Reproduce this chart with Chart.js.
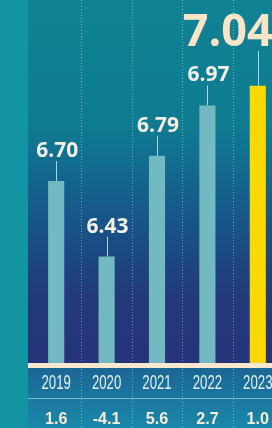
<!DOCTYPE html>
<html>
<head>
<meta charset="utf-8">
<script src="https://cdn.jsdelivr.net/npm/chart.js@4/dist/chart.umd.min.js"></script>
<style>
  html, body { margin: 0; padding: 0; width: 272px; height: 428px; overflow: hidden; background: #1294a2; }
  #wrap { position: absolute; left: 0; top: 0; width: 284px; height: 428px; }
</style>
</head>
<body>
<div id="wrap"><canvas id="c" width="284" height="428"></canvas></div>
<script>
const years = ["2019", "2020", "2021", "2022", "2023"];
const values = [6.70, 6.43, 6.79, 6.97, 7.04];
const valueLabels = ["6.70", "6.43", "6.79", "6.97", "7.04"];
const growth = ["1.6", "-4.1", "5.6", "2.7", "1.0"];

const BAR = "#72b9c2";
const HIGHLIGHT = "#f9d900";
const CREAM = "#f8e8cf";

function scaledText(ctx, text, x, y, sx) {
  ctx.save();
  ctx.translate(x, y);
  ctx.scale(sx, 1);
  ctx.fillText(text, 0, 0);
  ctx.restore();
}

const decor = {
  id: "decor",
  beforeDraw(chart) {
    const ctx = chart.ctx;
    const W = chart.width, H = chart.height;
    const base = chart.chartArea.bottom;
    const panelX = 28;
    ctx.save();
    ctx.fillStyle = "#1294a2";
    ctx.fillRect(0, 0, W, H);
    const g = ctx.createLinearGradient(0, 0, 0, base);
    g.addColorStop(0, "#0f8393");
    g.addColorStop(0.35, "#0f7b92");
    g.addColorStop(0.6, "#165689");
    g.addColorStop(0.82, "#23397a");
    g.addColorStop(1, "#26337a");
    ctx.fillStyle = g;
    ctx.fillRect(panelX, 0, W - panelX, base);
    const t = ctx.createLinearGradient(0, base, 0, H);
    t.addColorStop(0, "#1b6394");
    t.addColorStop(1, "#1a88a8");
    ctx.fillStyle = t;
    ctx.fillRect(panelX, base, W - panelX, H - base);
    ctx.restore();
  },
  beforeDatasetsDraw(chart) {
    const ctx = chart.ctx;
    const xs = chart.scales.x;
    const H = chart.height;
    ctx.save();
    ctx.strokeStyle = "rgba(200,232,240,0.5)";
    ctx.lineWidth = 1;
    ctx.setLineDash([1, 2]);
    for (let i = 0; i < years.length - 1; i++) {
      const x = Math.round((xs.getPixelForValue(i) + xs.getPixelForValue(i + 1)) / 2) + 0.5;
      ctx.beginPath();
      ctx.moveTo(x, 0);
      ctx.lineTo(x, H);
      ctx.stroke();
    }
    ctx.restore();
  },
  afterDatasetsDraw(chart) {
    const ctx = chart.ctx;
    const xs = chart.scales.x, ys = chart.scales.y;
    const base = chart.chartArea.bottom;
    const W = chart.width;
    ctx.save();
    ctx.fillStyle = CREAM;
    ctx.fillRect(28, base, W - 28, 5);
    ctx.fillStyle = "rgba(140,205,225,0.8)";
    ctx.fillRect(28, base + 35, W - 28, 1);

    for (let i = 0; i < values.length; i++) {
      const x = xs.getPixelForValue(i);
      const top = ys.getPixelForValue(values[i]);
      const last = i === values.length - 1;
      const labelMid = last ? 31 : top - 31;
      const leaderStart = last ? labelMid + 20 : labelMid + 11;
      ctx.strokeStyle = "rgba(190,225,232,0.9)";
      ctx.lineWidth = 1;
      ctx.beginPath();
      ctx.moveTo(Math.round(x) + 0.5, leaderStart);
      ctx.lineTo(Math.round(x) + 0.5, top);
      ctx.stroke();

      ctx.textAlign = "center";
      ctx.textBaseline = "middle";
      if (last) {
        ctx.fillStyle = "#fbe5c6";
        ctx.font = "700 45px 'Open Sans', sans-serif";
        ctx.fillText(valueLabels[i], x - 30, labelMid + 2);
      } else {
        ctx.fillStyle = "#f4efe4";
        ctx.font = "700 21px 'Open Sans', sans-serif";
        ctx.fillText(valueLabels[i], x + 1, labelMid + 1);
      }
    }

    for (let i = 0; i < years.length; i++) {
      const x = xs.getPixelForValue(i);
      ctx.textAlign = "center";
      ctx.textBaseline = "middle";
      ctx.fillStyle = "#e4eef0";
      ctx.font = "400 21px 'Liberation Sans', sans-serif";
      scaledText(ctx, years[i], x, base + 20, 0.63);
      ctx.fillStyle = "#f5ecd6";
      ctx.font = "700 17px 'Liberation Sans', sans-serif";
      scaledText(ctx, growth[i], x, base + 56, 0.95);
    }
    ctx.restore();
  }
};

new Chart(document.getElementById("c"), {
  type: "bar",
  data: {
    labels: years,
    datasets: [{
      data: values,
      backgroundColor: values.map((v, i) => i === values.length - 1 ? HIGHLIGHT : BAR),
      borderWidth: 0,
      barPercentage: 0.32,
      categoryPercentage: 1
    }]
  },
  options: {
    responsive: false,
    animation: false,
    layout: { padding: { left: 31, right: 1, top: 13, bottom: 65 } },
    scales: {
      x: { display: false },
      y: { display: false, min: 6.05, max: 7.3 }
    },
    plugins: { legend: { display: false }, tooltip: { enabled: false } }
  },
  plugins: [decor]
});
</script>
</body>
</html>
